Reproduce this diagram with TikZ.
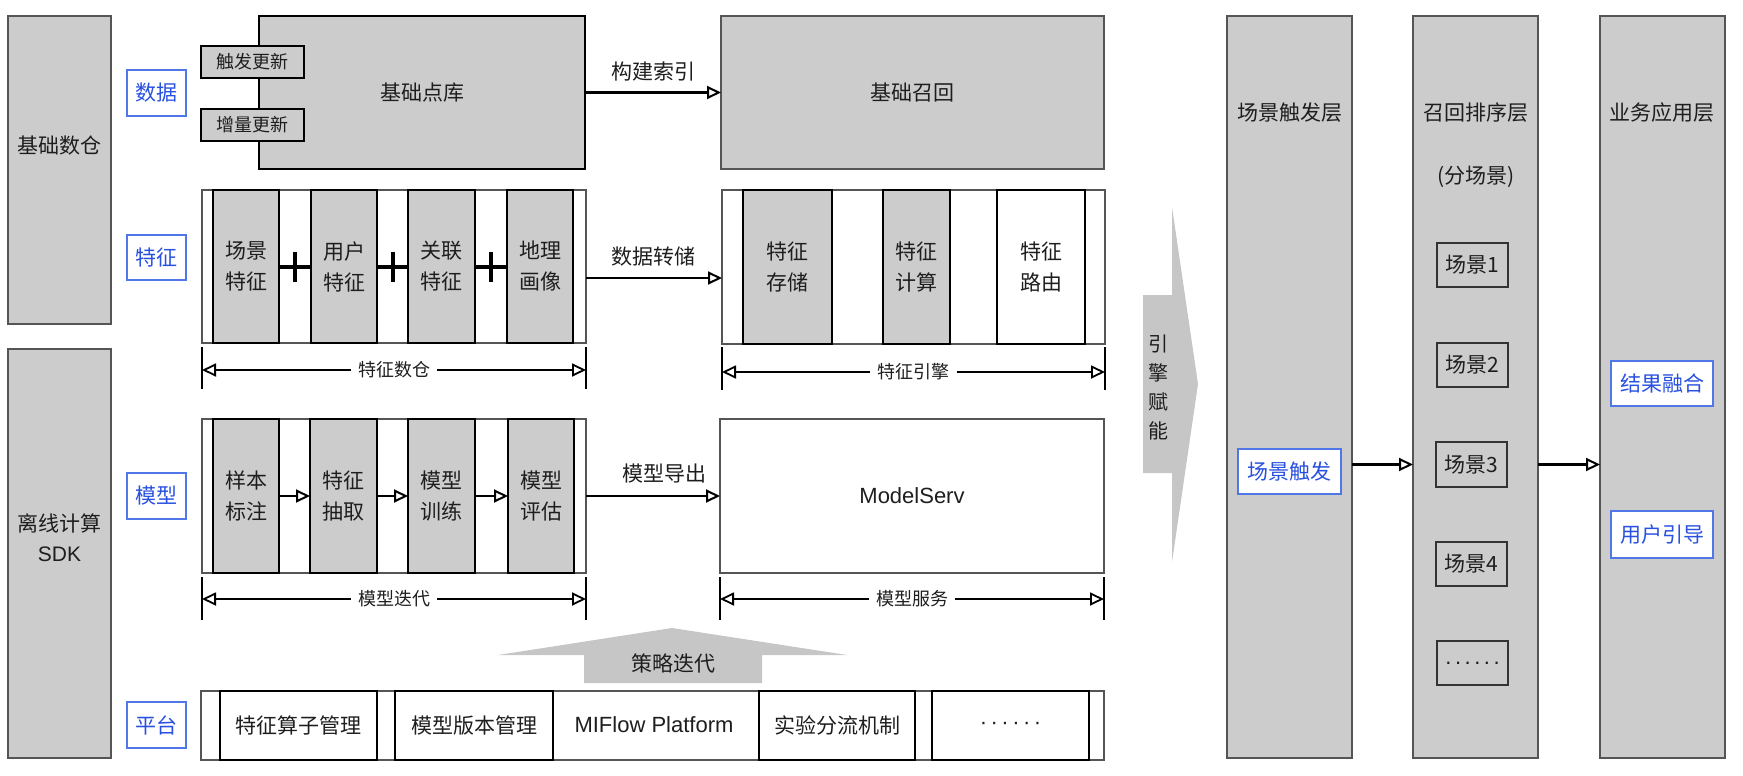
\documentclass[tikz,border=0pt]{standalone}
\usepackage{fontspec}
\setmainfont{Liberation Sans}
\newfontfamily\cjk{Noto Sans CJK SC}
\usetikzlibrary{arrows.meta,calc}
\definecolor{boxgray}{RGB}{204,204,204}
\definecolor{arrgray}{RGB}{198,198,198}
\definecolor{linegray}{RGB}{85,85,85}
\definecolor{bluetx}{RGB}{40,80,225}
\definecolor{bluebd}{RGB}{80,118,232}
\definecolor{txt}{RGB}{30,30,30}
% box node from corner coordinates: style, x1, y1, x2, y2, name
\newcommand\bx[6]{\node[#1, minimum width={(#4)-(#2)}, minimum height={(#5)-(#3)}] (#6) at ({((#2)+(#4))/2},{((#3)+(#5))/2})}
\newcommand\mydots[1]{#1\hspace{3.5pt}#1\hspace{3.5pt}#1\hspace{3.5pt}#1\hspace{3.5pt}#1\hspace{3.5pt}#1}
\begin{document}
\begin{tikzpicture}[x=1pt,y=-1pt,
  every node/.style={text=txt},
  base/.style={inner sep=0pt, outer sep=0pt, align=center},
  cn/.style={font=\cjk\fontsize{21}{31}\selectfont, align=center},
  thinbox/.style={base, cn, draw=linegray, line width=1.3pt, fill=boxgray},
  thinwhite/.style={base, cn, draw=linegray, line width=1.3pt, fill=white},
  thickbox/.style={base, cn, draw=black, line width=2.6pt, fill=boxgray},
  thickwhite/.style={base, cn, draw=black, line width=2.6pt, fill=white},
  colbox/.style={base, draw=linegray, line width=1.8pt, fill=boxgray},
  scenebox/.style={base, cn, draw=black!80, line width=2pt, fill=boxgray},
  bluebox/.style={base, draw=bluebd, line width=1.4pt, fill=white, text=bluetx, font=\cjk\fontsize{21}{24}\selectfont},
  arr/.style={draw=black, line width=2.2pt, -{Triangle[open, length=14pt, width=13pt, line width=2pt]}},
  dimarr/.style={draw=black, line width=1.8pt, -{Triangle[open, length=14pt, width=13pt, line width=1.8pt]}},
  tick/.style={draw=black, line width=1.8pt},
  plus/.style={draw=black, line width=4pt},
  dimlabel/.style={font=\cjk\fontsize{18}{20}\selectfont, fill=white, inner xsep=7pt, inner ysep=2pt},
  latin/.style={font=\rmfamily\fontsize{22}{26}\selectfont}
]
\useasboundingbox (0,0) rectangle (1743,776);

% ---------- left columns ----------
\bx{thinbox}{8}{16}{111}{324}{dw} {};
\node[cn] (dwt) at (59.5,146) {基础数仓};
\bx{thinbox}{8}{349}{111}{758}{sdk} {};
\node[font=\cjk\fontsize{21}{30}\selectfont, align=center] (sdkt) at (59.5,538) {离线计算\\{\rmfamily SDK}};

% ---------- blue row labels ----------
\bx{bluebox}{127}{70}{186}{116}{ldata} {数据};
\bx{bluebox}{127}{235}{186}{280}{lfeat} {特征};
\bx{bluebox}{127}{473}{186}{519}{lmodel} {模型};
\bx{bluebox}{127}{702}{186}{748}{lplat} {平台};

% ---------- data row ----------
\bx{thickbox}{259}{16}{585}{169}{bd} {基础点库};
\bx{thickbox, font=\cjk\fontsize{18}{20}\selectfont}{201}{46}{304}{78}{trig} {触发更新};
\bx{thickbox, font=\cjk\fontsize{18}{20}\selectfont}{201}{109}{304}{141}{incr} {增量更新};
\bx{thinbox}{721}{16}{1104}{169}{recall} {基础召回};
\draw[arr] (bd) -- (recall);
\node[cn] (lbl1) at (653,72) {构建索引};

% ---------- feature row ----------
\bx{thinwhite}{202}{190}{586}{343}{fo} {};
\bx{thickbox}{213}{190}{279}{343}{f1} {场景\\特征};
\bx{thickbox}{311}{190}{377}{343}{f2} {用户\\特征};
\bx{thickbox}{408}{190}{475}{343}{f3} {关联\\特征};
\bx{thickbox}{507}{190}{573}{343}{f4} {地理\\画像};
\foreach \a/\b/\n in {f1/f2/pa, f2/f3/pb, f3/f4/pc}{
  \draw[plus] (\a) -- (\b);
  \coordinate (\n) at ($(\a.east)!0.5!(\b.west)$);
  \draw[plus] ($(\n)+(0,-15)$) -- ($(\n)+(0,15)$);
}
\bx{thinwhite}{722}{190}{1105}{344}{fe} {};
\bx{thickbox}{743}{190}{832}{344}{e1} {特征\\存储};
\bx{thickbox}{883}{190}{950}{344}{e2} {特征\\计算};
\bx{thickwhite}{997}{190}{1085}{344}{e3} {特征\\路由};
\coordinate (y278) at (0,278);
\draw[arr] (fo.east |- y278) -- (fe.west |- y278);
\node[cn] (lbl2) at (653,257) {数据转储};

% dimension lines row 2
\draw[tick] ($(fo.south west)+(0,4)$) -- ++(0,42);
\draw[tick] ($(fo.south east)+(0,4)$) -- ++(0,42);
\node[dimlabel] (dfo) at ($(fo.south)+(0,27)$) {特征数仓};
\draw[dimarr] (dfo) -- ($(fo.south west)+(0,27)$);
\draw[dimarr] (dfo) -- ($(fo.south east)+(0,27)$);
\draw[tick] ($(fe.south west)+(0,3)$) -- ++(0,43);
\draw[tick] ($(fe.south east)+(0,3)$) -- ++(0,43);
\node[dimlabel] (dfe) at ($(fe.south)+(0,28)$) {特征引擎};
\draw[dimarr] (dfe) -- ($(fe.south west)+(0,28)$);
\draw[dimarr] (dfe) -- ($(fe.south east)+(0,28)$);

% ---------- model row ----------
\bx{thinwhite}{202}{419}{586}{573}{mo} {};
\bx{thickbox}{213}{419}{279}{573}{m1} {样本\\标注};
\bx{thickbox}{310}{419}{377}{573}{m2} {特征\\抽取};
\bx{thickbox}{408}{419}{475}{573}{m3} {模型\\训练};
\bx{thickbox}{508}{419}{574}{573}{m4} {模型\\评估};
\draw[arr] (m1) -- (m2);
\draw[arr] (m2) -- (m3);
\draw[arr] (m3) -- (m4);
\bx{thinwhite, latin}{720}{419}{1104}{573}{ms} {ModelServ};
\draw[arr] (mo) -- (ms);
\node[cn] (lbl3) at (664,474) {模型导出};

\draw[tick] ($(mo.south west)+(0,4)$) -- ++(0,43);
\draw[tick] ($(mo.south east)+(0,4)$) -- ++(0,43);
\node[dimlabel] (dmo) at ($(mo.south)+(0,26)$) {模型迭代};
\draw[dimarr] (dmo) -- ($(mo.south west)+(0,26)$);
\draw[dimarr] (dmo) -- ($(mo.south east)+(0,26)$);
\draw[tick] ($(ms.south west)+(0,4)$) -- ++(0,43);
\draw[tick] ($(ms.south east)+(0,4)$) -- ++(0,43);
\node[dimlabel] (dms) at ($(ms.south)+(0,26)$) {模型服务};
\draw[dimarr] (dms) -- ($(ms.south west)+(0,26)$);
\draw[dimarr] (dms) -- ($(ms.south east)+(0,26)$);

% ---------- strategy arrow ----------
\fill[arrgray] (584,683) -- (584,655) -- (498,655) -- (672,628) -- (847,655) -- (762,655) -- (762,683) -- cycle;
\node[cn] (strat) at (673,663) {策略迭代};

% ---------- platform row ----------
\bx{thinwhite}{201}{691}{1104}{760}{po} {};
\bx{thickwhite}{220}{691}{377}{760}{p1} {特征算子管理};
\bx{thickwhite}{395}{691}{553}{760}{p2} {模型版本管理};
\node[latin] (p3) at (654,725) {MIFlow Platform};
\bx{thickwhite}{759}{691}{915}{760}{p4} {实验分流机制};
\bx{thickwhite, latin}{932}{691}{1089}{760}{p5} {\mydots{·}};

% ---------- engine arrow ----------
\fill[arrgray] (1143,295) -- (1172,295) -- (1172,207) -- (1198,384) -- (1172,562) -- (1172,473) -- (1143,473) -- cycle;
\node[font=\cjk\fontsize{20}{29}\selectfont, align=center] (eng) at (1158,387) {引\\擎\\赋\\能};

% ---------- right columns ----------
\bx{colbox}{1227}{16}{1352}{758}{c1} {};
\bx{colbox}{1413}{16}{1538}{758}{c2} {};
\bx{colbox}{1600}{16}{1725}{758}{c3} {};
\node[cn] (c1t) at (1290,113) {场景触发层};
\node[cn] (c2t) at (1476,113) {召回排序层};
\node[cn] (c2s) at (1476,177) {(分场景)};
\node[cn] (c3t) at (1662,113) {业务应用层};

\bx{scenebox}{1437}{243}{1508}{287}{s1} {场景1};
\bx{scenebox}{1437}{343}{1508}{387}{s2} {场景2};
\bx{scenebox}{1436}{442}{1507}{487}{s3} {场景3};
\bx{scenebox}{1436}{542}{1507}{586}{s4} {场景4};
\bx{scenebox, latin}{1437}{641}{1508}{685}{s5} {\mydots{.}};

\bx{bluebox}{1238}{449}{1341}{494}{trigger} {场景触发};
\bx{bluebox}{1611}{361}{1713}{406}{fuse} {结果融合};
\bx{bluebox}{1611}{511}{1713}{558}{guide} {用户引导};

\draw[arr] (c1.east |- s3) -- (c2.west |- s3);
\draw[arr] (c2.east |- s3) -- (c3.west |- s3);
\end{tikzpicture}
\end{document}
